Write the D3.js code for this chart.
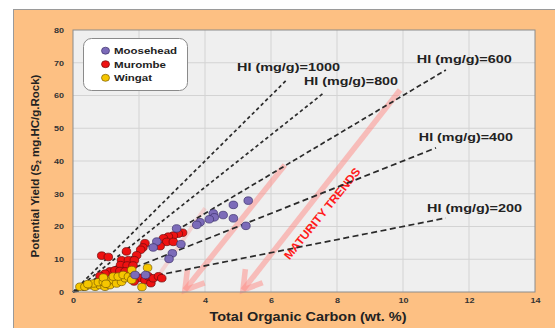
<!DOCTYPE html>
<html><head><meta charset="utf-8">
<script src="https://cdn.jsdelivr.net/npm/d3@7"></script>
<style>
body{margin:0;background:#fff}
svg{display:block}
text{font-family:"Liberation Sans",Arial,sans-serif;font-weight:bold}
</style>
</head><body>
<svg id="c" width="555" height="328"></svg>
<script>
// ---------- data ----------
const xTicks = [0, 2, 4, 6, 8, 10, 12, 14];
const yTicks = [0, 10, 20, 30, 40, 50, 60, 70, 80];
const seriesNames = ["Moosehead", "Murombe", "Wingat"];
const seriesColors = ["#7c6bb9", "#ee1212", "#f5c600"];

const mooseheadTOC = [5.31,4.86,4.55,4.25,4.28,4.13,4.86,5.24,3.85,3.75,3.14,2.54,2.43,3.27,3.01,2.91,1.88,2.20];
const mooseheadS2  = [27.9,26.6,23.5,24.0,22.8,22.2,22.5,20.2,21.3,20.5,19.4,15.4,13.6,14.6,11.8,10.1,5.2,5.2];

const murombeTOC = [3.32,3.19,3.04,2.89,2.74,2.84,3.04,2.64,2.18,2.12,2.05,1.93,1.62,0.87,1.07,
                    1.47,1.68,1.86,1.44,1.64,1.82,1.12,1.27,1.42,1.58,0.97,0.82,
                    2.03,2.18,2.36,2.28,2.43,2.59,2.69,1.85];
const murombeS2  = [18.1,17.8,17.2,16.9,16.4,15.3,15.3,14.0,14.9,13.6,12.9,11.2,12.4,11.1,10.7,
                    9.7,9.7,9.7,8.2,8.1,8.1,6.3,6.6,6.4,6.3,5.6,4.9,
                    4.3,3.6,2.7,4.8,4.2,4.8,4.2,3.2];

const wingatTOC = [0.21,0.36,0.52,0.67,0.82,0.97,1.12,0.62,0.77,0.92,1.07,1.22,1.37,1.32,1.47,1.58,
                   0.92,1.22,1.37,1.52,1.68,1.78,1.83,1.78,2.26,2.09,0.45,1.00];
const wingatS2  = [1.6,1.6,2.1,1.6,2.1,1.6,2.1,2.6,3.0,3.1,3.4,3.7,3.7,2.6,3.1,4.2,
                   4.4,4.7,4.7,5.2,4.7,6.7,4.7,3.7,7.4,1.5,2.4,2.5];

const hiValues   = [1000, 800, 600, 400, 200];
const hiEndTOC   = [6.5, 7.6, 11.3, 11.0, 11.3];
const hiLabelTOC = [4.97, 7.0, 10.42, 10.48, 10.73];
const hiLabelS2  = [68.7, 64.5, 71.1, 47.3, 25.6];

const trendStartTOC = [6.42, 9.91, 4.0];
const trendStartS2  = [38.8, 61.7, 25.6];
const trendEndTOC   = [3.39, 5.15, 2.39];
const trendEndS2    = [0.6, 0.6, 2.1];
const trendHasHead  = [true, true, false];

// ---------- layout ----------
const svg = d3.select("#c");
const x = d3.scaleLinear().domain([0, 14]).range([73, 535]);
const y = d3.scaleLinear().domain([0, 80]).range([292, 30]);
const SX = 1.2; // horizontal text stretch of the original

// panel
svg.append("rect").attr("x", 13.5).attr("y", 9.5).attr("width", 600).attr("height", 400)
  .attr("fill", "#fdc083").attr("stroke", "#9a9a9a");

// plot background
svg.append("rect").attr("x", x(0)).attr("y", y(80)).attr("width", x(14) - x(0)).attr("height", y(0) - y(80))
  .attr("fill", "#efefef");

// grid
svg.append("g").selectAll("line").data(xTicks.slice(1, -1)).join("line")
  .attr("x1", d => x(d)).attr("x2", d => x(d)).attr("y1", y(0)).attr("y2", y(80))
  .attr("stroke", "#d3d3d3").attr("stroke-width", 1);
svg.append("g").selectAll("line").data(yTicks.slice(1, -1)).join("line")
  .attr("y1", d => y(d)).attr("y2", d => y(d)).attr("x1", x(0)).attr("x2", x(14))
  .attr("stroke", "#d3d3d3").attr("stroke-width", 1);

// maturity trend arrows
const tg = svg.append("g");
trendStartTOC.forEach((_, i) => {
  const x1 = x(trendStartTOC[i]), y1 = y(trendStartS2[i]);
  const x2 = x(trendEndTOC[i]), y2 = y(trendEndS2[i]);
  const head = trendHasHead[i];
  tg.append("line").attr("x1", x1).attr("y1", y1).attr("x2", x2).attr("y2", y2)
    .attr("stroke", "#ff8a84").attr("stroke-opacity", head ? 0.5 : 0.28)
    .attr("stroke-width", head ? 5.5 : 4).attr("stroke-linecap", "butt");
  if (head) {
    const ang = Math.atan2(y1 - y2, x1 - x2);
    const L = 21, a = 0.55;
    const w1 = [x2 + L * Math.cos(ang - a), y2 + L * Math.sin(ang - a)];
    const w2 = [x2 + L * Math.cos(ang + a), y2 + L * Math.sin(ang + a)];
    tg.append("path").attr("d", `M${w1}L${x2},${y2}L${w2}`)
      .attr("fill", "none").attr("stroke", "#ff8a84").attr("stroke-opacity", 0.5)
      .attr("stroke-width", 5.5).attr("stroke-linejoin", "miter");
  }
});

// MATURITY TRENDS label
{
  const cx = x(7.55), cy = y(24.0);
  svg.append("text").attr("transform", `translate(${cx},${cy}) rotate(-51)`)
    .attr("text-anchor", "middle").attr("dy", "0.35em")
    .attr("font-size", 11.5).attr("fill", "#ff1a1a")
    .attr("textLength", 114).attr("lengthAdjust", "spacingAndGlyphs")
    .text("MATURITY TRENDS");
}

// HI lines
const dashes = ["3.5,2.8", "3.5,2.8", "5,3", "6,3.5", "6,3.5"];
svg.append("g").selectAll("line").data(hiValues).join("line")
  .attr("x1", x(0)).attr("y1", y(0))
  .attr("x2", (d, i) => x(hiEndTOC[i])).attr("y2", (d, i) => y(hiEndTOC[i] * d / 100))
  .attr("stroke", "#2a2a2a").attr("stroke-width", 1.7)
  .attr("stroke-dasharray", (d, i) => dashes[i]);

// HI labels
const hiLabelW = [103, 94, 95, 94, 95];
svg.append("g").selectAll("text").data(hiValues).join("text")
  .attr("x", (d, i) => x(hiLabelTOC[i])).attr("y", (d, i) => y(hiLabelS2[i]))
  .attr("dy", "0.36em").attr("font-size", 11.5).attr("fill", "#222")
  .attr("textLength", (d, i) => hiLabelW[i]).attr("lengthAdjust", "spacingAndGlyphs")
  .text(d => `HI (mg/g)=${d}`);

// points (draw order: Murombe, Wingat, Moosehead)
const series = [
  {toc: mooseheadTOC, s2: mooseheadS2},
  {toc: murombeTOC, s2: murombeS2},
  {toc: wingatTOC, s2: wingatS2}
];
const strokes = ["#3b2f6a", "#6a0b0b", "#7a5a00"];
[1, 2, 0].forEach(si => {
  const s = series[si];
  svg.append("g").selectAll("ellipse").data(s.toc).join("ellipse")
    .attr("cx", (d) => x(d)).attr("cy", (d, i) => y(s.s2[i]))
    .attr("rx", 4.3).attr("ry", 3.8)
    .attr("fill", seriesColors[si]).attr("stroke", strokes[si]).attr("stroke-width", 0.7);
});

// plot border
svg.append("rect").attr("x", x(0)).attr("y", y(80)).attr("width", x(14) - x(0)).attr("height", y(0) - y(80))
  .attr("fill", "none").attr("stroke", "#8c8c8c").attr("stroke-width", 1);

// axes
const yAxis = svg.append("g").attr("transform", `translate(${x(0)},0)`)
  .call(d3.axisLeft(y).tickValues(yTicks).tickSize(0).tickPadding(9));
yAxis.select(".domain").remove();
yAxis.selectAll("text").attr("font-size", 7.5).attr("fill", "#333").attr("font-family", null)
  .attr("x", -9 / SX).attr("transform", `scale(${SX},1)`);

const xAxis = svg.append("g").attr("transform", `translate(0,${y(0)})`)
  .call(d3.axisBottom(x).tickValues(xTicks).tickSize(0).tickPadding(6));
xAxis.select(".domain").remove();
xAxis.selectAll("text").attr("font-size", 7.5).attr("fill", "#333").attr("font-family", null)
  .attr("transform", `scale(${SX},1)`);

// axis titles
svg.append("text").attr("x", 308).attr("y", 316).attr("dy", "0.35em").attr("text-anchor", "middle")
  .attr("font-size", 13).attr("fill", "#222")
  .attr("textLength", 197).attr("lengthAdjust", "spacingAndGlyphs")
  .text("Total Organic Carbon (wt. %)");

const yt = svg.append("text").attr("transform", "translate(35,166) rotate(-90)")
  .attr("text-anchor", "middle").attr("dy", "0.35em").attr("font-size", 11.5).attr("fill", "#222");
yt.append("tspan").text("Potential Yield (S");
yt.append("tspan").attr("font-size", 7).attr("dy", "0.3em").text("2");
yt.append("tspan").attr("dy", "-0.2em").text(" mg.HC/g.Rock)");

// legend
const lg = svg.append("g");
lg.append("rect").attr("x", 83.5).attr("y", 38.5).attr("width", 104).attr("height", 52).attr("rx", 8)
  .attr("fill", "#fff").attr("stroke", "#8a8a8a");
const legY = [50.7, 64.2, 77.8];
const legW = [63, 52, 38];
lg.selectAll("ellipse").data(seriesNames).join("ellipse")
  .attr("cx", 105.5).attr("cy", (d, i) => legY[i]).attr("rx", 4).attr("ry", 3.5)
  .attr("fill", (d, i) => seriesColors[i]).attr("stroke", (d, i) => strokes[i]).attr("stroke-width", 0.7);
lg.selectAll("text").data(seriesNames).join("text")
  .attr("x", 114).attr("y", (d, i) => legY[i]).attr("dy", "0.36em")
  .attr("font-size", 9.5).attr("fill", "#222")
  .attr("textLength", (d, i) => legW[i]).attr("lengthAdjust", "spacingAndGlyphs")
  .text(d => d);
</script>
</body></html>
